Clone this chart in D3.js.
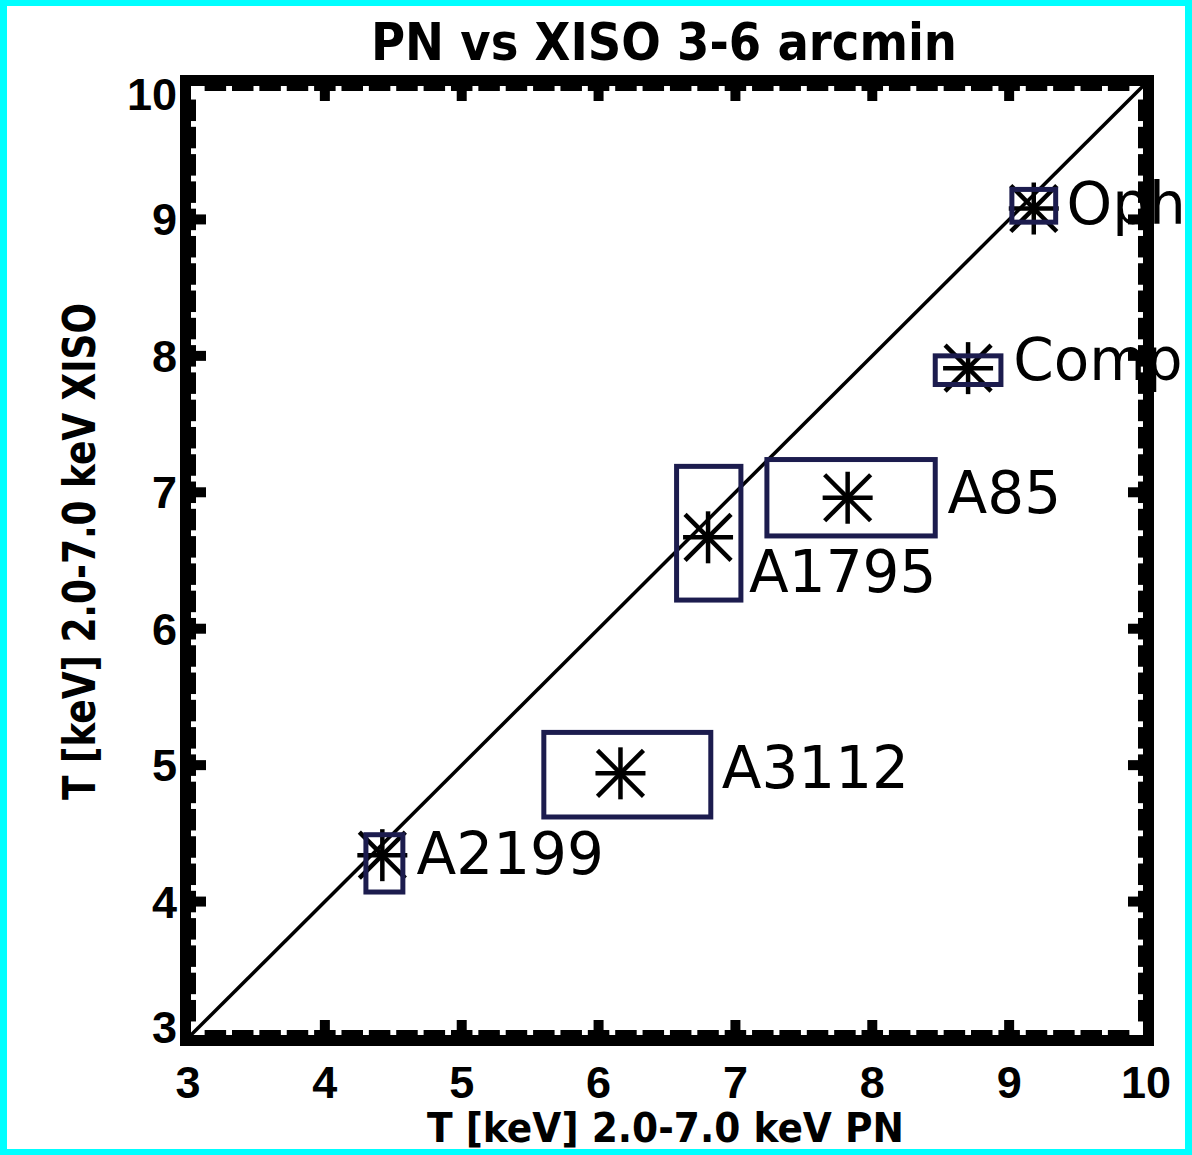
<!DOCTYPE html>
<html>
<head>
<meta charset="utf-8">
<script src="https://cdn.jsdelivr.net/npm/d3@7"></script>
<style>
  html, body { margin: 0; padding: 0; background: #00ffff; }
  svg { display: block; }
</style>
</head>
<body>
<svg id="chart"></svg>
<script>
var width = 1192,
    height = 1155;

// cluster names and temperatures (keV)
var names    = ["A2199", "A3112", "A1795", "A85", "Comp", "Oph"];
var tPN      = [4.42, 6.16, 6.80, 7.82, 8.70, 9.18];
var tPNlo    = [4.30, 5.60, 6.57, 7.23, 8.46, 9.02];
var tPNhi    = [4.57, 6.82, 7.04, 8.46, 8.94, 9.34];
var tXIS     = [4.34, 4.94, 6.67, 6.96, 7.91, 9.08];
var tXISlo   = [4.07, 4.62, 6.21, 6.68, 7.79, 8.98];
var tXIShi   = [4.49, 5.24, 7.19, 7.24, 8.00, 9.22];
var labelPN  = [4.67, 6.90, 7.10, 8.55, 9.03, 9.42]; // where the name is written (data units)
var labelXIS = [4.20, 4.83, 6.27, 6.85, 7.82, 8.97];
var tickVals = [3, 4, 5, 6, 7, 8, 9, 10];

var x = d3.scaleLinear().domain([3, 10]).range([188, 1146]);
var y = d3.scaleLinear().domain([3, 10]).range([1038, 83]);

var x0 = x.range()[0], x1 = x.range()[1],
    yB = y.range()[0], yT = y.range()[1];

var svg = d3.select("#chart") //whole page
    .attr("width", width)
    .attr("height", height);

// white page inside the cyan border
svg.append("rect")
    .attr("x", 7).attr("y", 6)
    .attr("width", width - 14).attr("height", height - 12)
    .attr("fill", "#ffffff");

svg.append("clipPath").attr("id", "inner")
  .append("rect")
    .attr("x", x0 + 3).attr("y", yT + 3)
    .attr("width", x1 - x0 - 6).attr("height", yB - yT - 6);

// one-to-one line
svg.append("line")
    .attr("clip-path", "url(#inner)")
    .attr("x1", x(3)).attr("y1", y(3))
    .attr("x2", x(10)).attr("y2", y(10))
    .attr("stroke", "#000").attr("stroke-width", 3.5);

var data = names.map(function(n, i) {
  return {name: n, px: tPN[i], pxLo: tPNlo[i], pxHi: tPNhi[i],
          py: tXIS[i], pyLo: tXISlo[i], pyHi: tXIShi[i],
          lx: labelPN[i], ly: labelXIS[i]};
});

var pt = svg.selectAll("g.pt")
    .data(data)
  .enter().append("g")
    .attr("class", "pt");

// asterisk (psym=2 look): 4 strokes
var arms = [[-25, 0, 25, 0], [0, -26, 0, 26], [-23, -23, 23, 23], [-23, 23, 23, -23]];
pt.each(function(d) {
  var g = d3.select(this);
  arms.forEach(function(a) {
    g.append("line")
        .attr("x1", x(d.px) + a[0]).attr("y1", y(d.py) + a[1])
        .attr("x2", x(d.px) + a[2]).attr("y2", y(d.py) + a[3])
        .attr("stroke", "#000").attr("stroke-width", 4.5);
  });
});

// error boxes
pt.append("rect")
    .attr("x", function(d) { return x(d.pxLo); })
    .attr("y", function(d) { return y(d.pyHi); })
    .attr("width", function(d) { return x(d.pxHi) - x(d.pxLo); })
    .attr("height", function(d) { return y(d.pyLo) - y(d.pyHi); })
    .attr("fill", "none")
    .attr("stroke", "#1c1c4e")
    .attr("stroke-width", 5);

pt.append("text")
    .attr("x", function(d) { return x(d.lx); })
    .attr("y", function(d) { return y(d.ly); })
    .attr("font-family", "DejaVu Sans")
    .attr("font-size", 58)
    .attr("fill", "#000")
    .text(function(d) { return d.name; });

// frame
svg.append("rect")
    .attr("x", x0 - 2.5).attr("y", yT - 2.5)
    .attr("width", x1 - x0 + 5).attr("height", yB - yT + 5)
    .attr("fill", "none")
    .attr("stroke", "#000").attr("stroke-width", 11);

var minor = x.ticks(35).filter(function(v) { return v > 3 && v < 10; });
var major = tickVals.filter(function(v) { return v > 3 && v < 10; });

var ticks = svg.append("g").attr("stroke", "#000");
function stubs(vals, len, w) {
  vals.forEach(function(v) {
    // bottom, top, left, right
    ticks.append("line").attr("x1", x(v)).attr("x2", x(v))
        .attr("y1", yB - 3).attr("y2", yB - 3 - len).attr("stroke-width", w);
    ticks.append("line").attr("x1", x(v)).attr("x2", x(v))
        .attr("y1", yT + 3).attr("y2", yT + 3 + len).attr("stroke-width", w);
    ticks.append("line").attr("y1", y(v)).attr("y2", y(v))
        .attr("x1", x0 + 3).attr("x2", x0 + 3 + len).attr("stroke-width", w);
    ticks.append("line").attr("y1", y(v)).attr("y2", y(v))
        .attr("x1", x1 - 3).attr("x2", x1 - 3 - len).attr("stroke-width", w);
  });
}
stubs(minor, 5, 21.5);
stubs(major, 15, 10);

// tick labels
svg.selectAll("text.xt")
    .data(tickVals)
  .enter().append("text")
    .attr("class", "xt")
    .attr("x", function(d) { return x(d); })
    .attr("y", yB + 60)
    .attr("text-anchor", "middle")
    .attr("font-family", "Liberation Sans")
    .attr("font-weight", "bold")
    .attr("font-size", 45)
    .text(function(d) { return d; });

svg.selectAll("text.yt")
    .data(tickVals)
  .enter().append("text")
    .attr("class", "yt")
    .attr("x", x0 - 11)
    .attr("y", function(d) { return Math.min(Math.max(y(d), yT + 11), yB - 11) + 16; })
    .attr("text-anchor", "end")
    .attr("font-family", "Liberation Sans")
    .attr("font-weight", "bold")
    .attr("font-size", 45)
    .text(function(d) { return d; });

// titles
svg.append("text")
    .attr("x", 371).attr("y", 60)
    .attr("font-family", "DejaVu Sans").attr("font-weight", "bold")
    .attr("font-size", 52)
    .attr("textLength", 586).attr("lengthAdjust", "spacingAndGlyphs")
    .text("PN vs XISO 3-6 arcmin");

svg.append("text")
    .attr("x", 427).attr("y", 1142)
    .attr("font-family", "DejaVu Sans").attr("font-weight", "bold")
    .attr("font-size", 41)
    .attr("textLength", 477).attr("lengthAdjust", "spacingAndGlyphs")
    .text("T [keV] 2.0-7.0 keV PN");

svg.append("text")
    .attr("transform", "translate(95,800) rotate(-90)")
    .attr("font-family", "DejaVu Sans").attr("font-weight", "bold")
    .attr("font-size", 44)
    .attr("textLength", 497).attr("lengthAdjust", "spacingAndGlyphs")
    .text("T [keV] 2.0-7.0 keV XISO");
</script>
</body>
</html>
